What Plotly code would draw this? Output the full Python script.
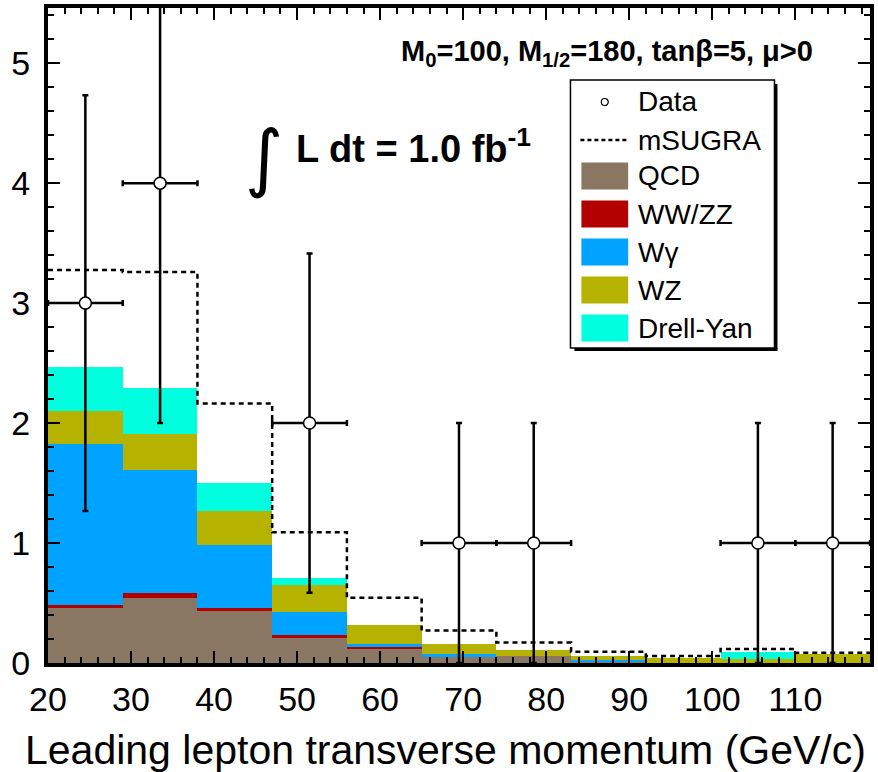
import plotly.graph_objects as go
import math

# ---------------- data ----------------
bin_edges = [20, 29, 38, 47, 56, 65, 74, 83, 92, 101, 110, 119]
qcd    = [0.46, 0.545, 0.436, 0.211, 0.122, 0.05, 0.058, 0.01, 0.0, 0.0, 0.0]
wwzz   = [0.022, 0.036, 0.022, 0.02, 0.014, 0.0, 0.0, 0.0, 0.0, 0.0, 0.0]
wgamma = [1.343, 1.027, 0.522, 0.191, 0.02, 0.022, 0.0, 0.012, 0.0, 0.0, 0.0]
wz     = [0.275, 0.30, 0.287, 0.228, 0.161, 0.084, 0.05, 0.04, 0.042, 0.03, 0.072]
dy     = [0.364, 0.386, 0.23, 0.061, 0.0, 0.0, 0.0, 0.0, 0.0, 0.064, 0.0]
msugra = [3.275, 3.26, 2.164, 1.089, 0.544, 0.27, 0.17, 0.094, 0.058, 0.117, 0.086]
data_counts = [3, 4, 0, 2, 0, 1, 1, 0, 0, 1, 1]

components = [
    ("QCD", qcd, "#897763"),
    ("WW/ZZ", wwzz, "#b30000"),
    ("W\u03b3", wgamma, "#00a3ff"),
    ("WZ", wz, "#b6b300"),
    ("Drell-Yan", dy, "#00ffde"),
]

centers = [(a + b) / 2 for a, b in zip(bin_edges[:-1], bin_edges[1:])]
widths = [b - a for a, b in zip(bin_edges[:-1], bin_edges[1:])]

FONT = "Liberation Sans, Arial, Helvetica, sans-serif"
W, H = 878, 772
ML, MR, MT, MB = 48, 4, 8, 109
PW, PH = W - ML - MR, H - MT - MB


def px(x):
    return (x - ML) / PW


def py(y):
    return (H - MB - y) / PH


fig = go.Figure()

for name, vals, col in components:
    fig.add_trace(go.Bar(
        x=centers, y=vals, width=widths, name=name,
        marker=dict(color=col, line=dict(width=0)),
        showlegend=False,
    ))

fig.add_trace(go.Scatter(
    x=bin_edges, y=msugra + [msugra[-1]], mode="lines", line_shape="hv",
    line=dict(color="black", width=2.5, dash="5px,4px"), name="mSUGRA",
    showlegend=False,
))

dx = [c for c, n in zip(centers, data_counts) if n > 0]
dyv = [n for n in data_counts if n > 0]
dxe = [w / 2 for w, n in zip(widths, data_counts) if n > 0]
dye = [math.sqrt(n) for n in dyv]
fig.add_trace(go.Scatter(
    x=dx, y=dyv, mode="markers", name="Data",
    marker=dict(symbol="circle", size=12, color="white",
                line=dict(color="black", width=1.5)),
    error_y=dict(type="data", array=dye, color="black", thickness=2.5, width=3),
    error_x=dict(type="data", array=dxe, color="black", thickness=2.5, width=3),
    showlegend=False,
))

axis_common = dict(
    showline=True, linecolor="black", linewidth=4, mirror="ticks",
    ticks="inside", ticklen=12, tickwidth=1.5, tickcolor="black",
    showgrid=False, zeroline=False,
    tickfont=dict(family=FONT, size=34, color="black"),
)

fig.update_layout(
    width=W, height=H,
    margin=dict(l=ML, r=MR, t=MT, b=MB),
    paper_bgcolor="white", plot_bgcolor="white",
    barmode="stack", bargap=0,
    showlegend=False,
    xaxis=dict(range=[20, 119], tick0=20, dtick=10,
               minor=dict(ticks="inside", dtick=2, ticklen=6, tickwidth=1.5, tickcolor="black"),
               ticklabelstandoff=3,
               **axis_common),
    yaxis=dict(range=[0, 5.46], tick0=0, dtick=1,
               minor=dict(ticks="inside", dtick=0.2, ticklen=6, tickwidth=1.5, tickcolor="black"),
               ticklabelstandoff=7,
               **axis_common),
)

annotations = []
shapes = []

# axis title
annotations.append(dict(
    text="Leading lepton transverse momentum (GeV/c)", xref="paper", yref="paper",
    x=px(871), y=py(750), xanchor="right", yanchor="middle", showarrow=False,
    font=dict(family=FONT, size=41, color="black"), borderpad=0,
))

# parameter text
annotations.append(dict(
    text="<b>M<sub>0</sub>=100, M<sub>1/2</sub>=180, tan\u03b2=5, \u03bc>0</b>",
    xref="paper", yref="paper", x=px(819), y=py(53), xanchor="right", yanchor="middle",
    showarrow=False, font=dict(family=FONT, size=29, color="black"),
))

# luminosity text
annotations.append(dict(
    text="\u222b", xref="paper", yref="paper", x=px(266), y=py(157),
    xanchor="center", yanchor="middle", showarrow=False,
    font=dict(family="DejaVu Sans", size=74, color="black"),
))
annotations.append(dict(
    text="<b>L dt = 1.0 fb<sup>-1</sup></b>", xref="paper", yref="paper",
    x=px(295), y=py(146), xanchor="left", yanchor="middle", showarrow=False,
    font=dict(family=FONT, size=38, color="black"),
))

# legend (drawn manually, ROOT style)
LX0, LX1, LY0, LY1 = 573, 778, 80, 348
shapes.append(dict(type="rect", xref="paper", yref="paper",
                   x0=px(LX0), x1=px(LX1), y0=py(LY1), y1=py(LY0),
                   line=dict(color="black", width=1.5), fillcolor="white", layer="above"))
shapes.append(dict(type="line", xref="paper", yref="paper",
                   x0=px(LX1 + 1.5), x1=px(LX1 + 1.5), y0=py(LY0 + 4), y1=py(LY1 + 1.5),
                   line=dict(color="black", width=3), layer="above"))
shapes.append(dict(type="line", xref="paper", yref="paper",
                   x0=px(LX0 + 4), x1=px(LX1 + 3), y0=py(LY1 + 1.5), y1=py(LY1 + 1.5),
                   line=dict(color="black", width=3), layer="above"))

legend_rows = [("Data", None), ("mSUGRA", None)] + [(n, c) for n, _, c in components]
row_y = [102, 140, 176, 214, 252, 290, 328]
for (name, col), yc in zip(legend_rows, row_y):
    annotations.append(dict(
        text=name, xref="paper", yref="paper", x=px(639), y=py(yc),
        xanchor="left", yanchor="middle", showarrow=False,
        font=dict(family=FONT, size=28, color="black"),
    ))
    if name == "Data":
        shapes.append(dict(type="circle", xref="paper", yref="paper",
                           x0=px(604), x1=px(611), y0=py(yc + 3.5), y1=py(yc - 3.5),
                           line=dict(color="black", width=1.2), fillcolor="white", layer="above"))
    elif name == "mSUGRA":
        shapes.append(dict(type="line", xref="paper", yref="paper",
                           x0=px(583), x1=px(631), y0=py(yc), y1=py(yc),
                           line=dict(color="black", width=2.5, dash="4px,3px"), layer="above"))
    else:
        shapes.append(dict(type="rect", xref="paper", yref="paper",
                           x0=px(584), x1=px(631), y0=py(yc + 13.5), y1=py(yc - 13.5),
                           line=dict(width=0), fillcolor=col, layer="above"))

fig.update_layout(annotations=annotations, shapes=shapes)

fig.write_html("out.html")
